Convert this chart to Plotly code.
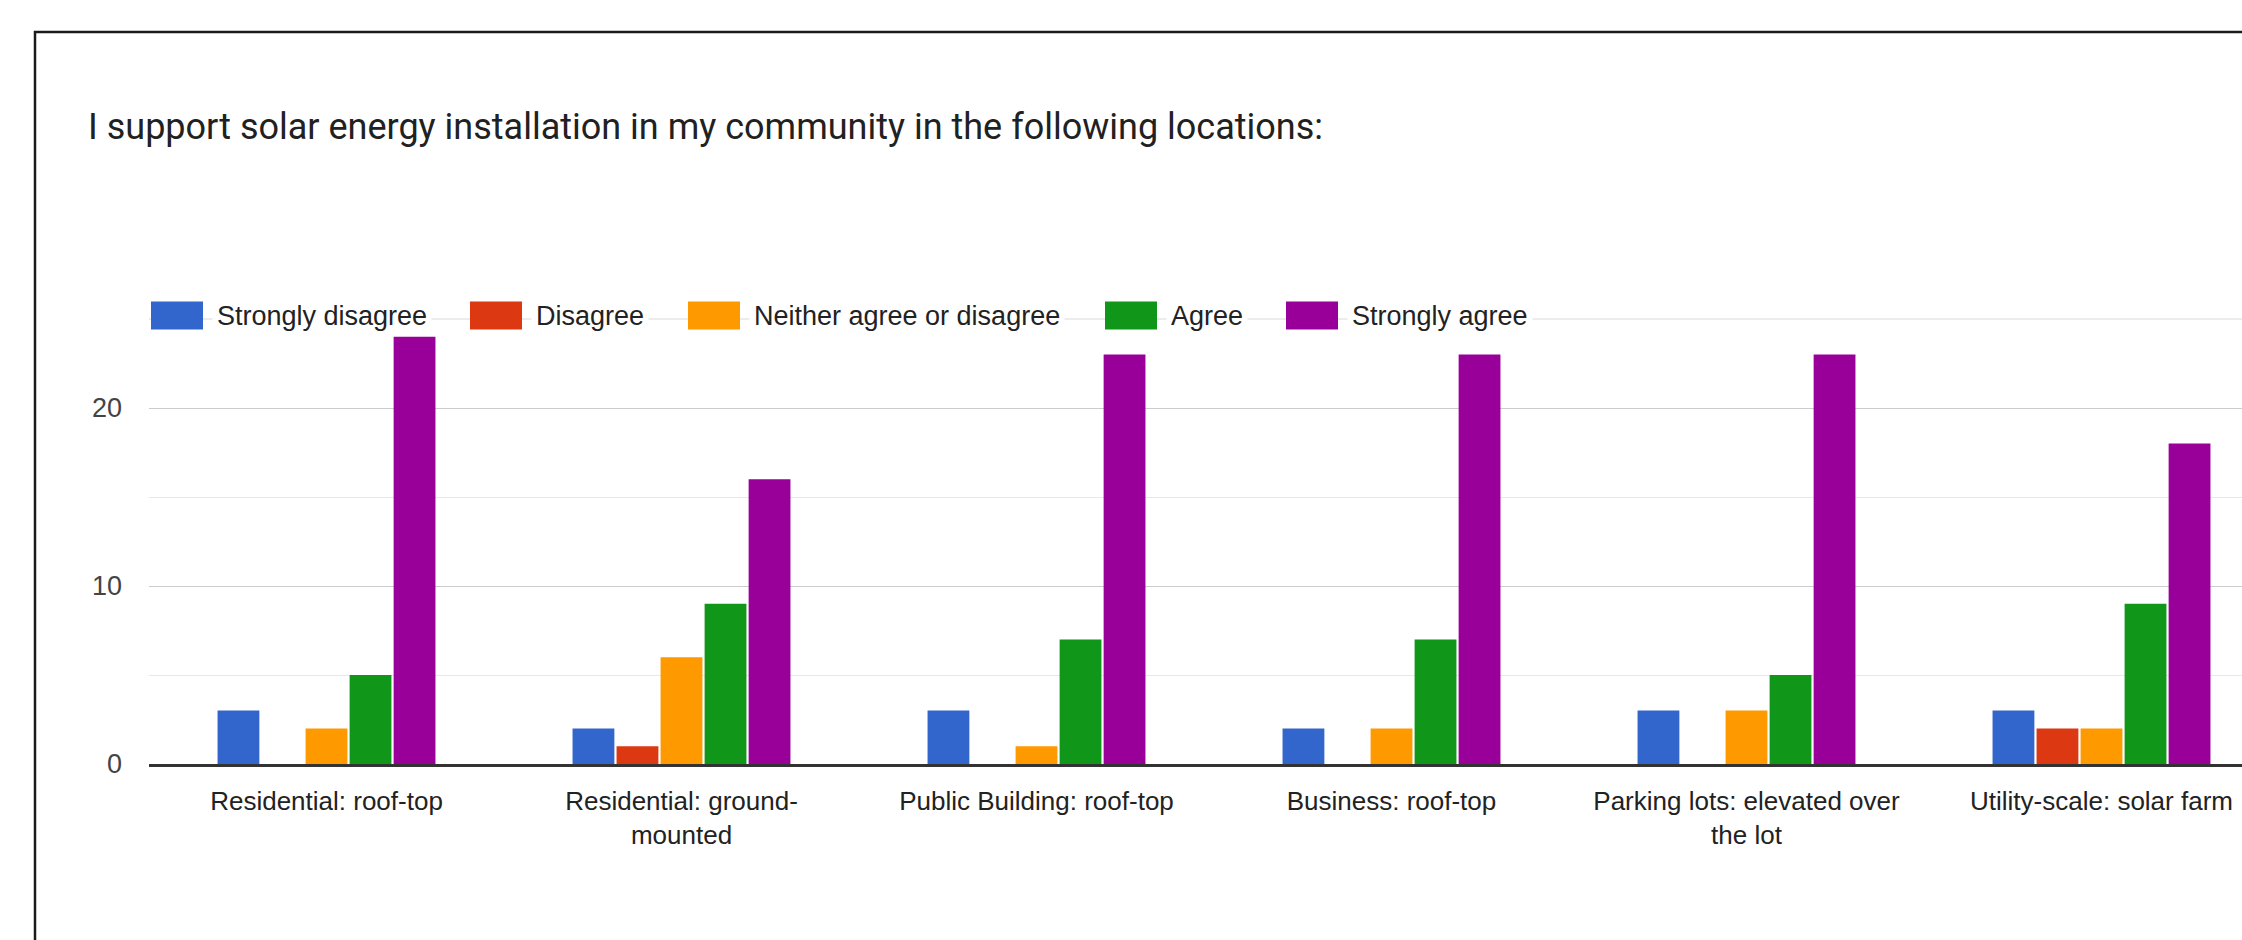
import plotly.graph_objects as go

# ---- data -------------------------------------------------------------
categories = [
    "Residential: roof-top",
    "Residential: ground-mounted",
    "Public Building: roof-top",
    "Business: roof-top",
    "Parking lots: elevated over the lot",
    "Utility-scale: solar farm",
]
tick_labels = [
    "Residential: roof-top",
    "Residential: ground-<br>mounted",
    "Public Building: roof-top",
    "Business: roof-top",
    "Parking lots: elevated over<br>the lot",
    "Utility-scale: solar farm",
]
series_names = [
    "Strongly disagree",
    "Disagree",
    "Neither agree or disagree",
    "Agree",
    "Strongly agree",
]
strongly_disagree = [3, 2, 3, 2, 3, 3]
disagree = [0, 1, 0, 0, 0, 2]
neither = [2, 6, 1, 2, 3, 2]
agree = [5, 9, 7, 7, 5, 9]
strongly_agree = [24, 16, 23, 23, 23, 18]
y_ticks = [0, 10, 20]
y_minor_ticks = [5, 15]
y_max = 25

title_text = "I support solar energy installation in my community in the following locations:"

# ---- styling ----------------------------------------------------------
colors = ["#3366cc", "#dc3912", "#ff9900", "#109618", "#990099"]
AXIS_FONT = "Liberation Sans, Arial, sans-serif"
TITLE_FONT = "Roboto, Arial, sans-serif"

W, H = 2242, 940
PLOT_L, PLOT_R, PLOT_T, PLOT_B = 149, 2242, 319, 764
CAT_STEP = 355  # pixel width of one category slot


def px_x(px):
    return (px - PLOT_L) / (PLOT_R - PLOT_L)


def px_y(py):
    return (PLOT_B - py) / (PLOT_B - PLOT_T)


fig = go.Figure()
values = [strongly_disagree, disagree, neither, agree, strongly_agree]
for name, vals, col in zip(series_names, values, colors):
    fig.add_trace(
        go.Bar(
            x=categories,
            y=vals,
            name=name,
            marker=dict(color=col, line=dict(width=0)),
            showlegend=False,
        )
    )

shapes = []
annotations = []

# faint top gridline that the legend sits on
shapes.append(
    dict(
        type="line", xref="paper", yref="paper",
        x0=0, x1=1, y0=1, y1=1,
        line=dict(color="#e6e6e6", width=1.4), layer="below",
    )
)

# custom legend: wide swatches sitting on the top gridline
legend_swatch_x = [151, 470, 688, 1105, 1286]
SW_W, SW_H = 52, 28
legend_cy = 315.5
for name, col, sx in zip(series_names, colors, legend_swatch_x):
    shapes.append(
        dict(
            type="rect", xref="paper", yref="paper",
            x0=px_x(sx), x1=px_x(sx + SW_W),
            y0=px_y(legend_cy + SW_H / 2), y1=px_y(legend_cy - SW_H / 2),
            fillcolor=col, line=dict(width=0), layer="above",
        )
    )
    annotations.append(
        dict(
            text=name, xref="paper", yref="paper",
            x=px_x(sx + SW_W + 9), y=px_y(legend_cy),
            xanchor="left", yanchor="middle", showarrow=False,
            bgcolor="white", borderpad=4,
            font=dict(family=AXIS_FONT, size=27, color="#222222"),
        )
    )

# outer card border
shapes.append(
    dict(
        type="rect", xref="paper", yref="paper",
        x0=px_x(35), x1=px_x(2300), y0=px_y(1000), y1=px_y(32),
        line=dict(color="#1a1a1a", width=2.5), fillcolor="rgba(0,0,0,0)",
        layer="below",
    )
)

fig.update_layout(
    template="none",
    width=W,
    height=H,
    paper_bgcolor="white",
    plot_bgcolor="white",
    margin=dict(l=PLOT_L, r=W - PLOT_R, t=PLOT_T, b=H - PLOT_B, pad=0, autoexpand=False),
    barmode="group",
    bargap=0.38,
    bargroupgap=0.05,
    showlegend=False,
    title=dict(
        text=title_text,
        xref="container", yref="container",
        x=88 / W, y=1 - 126 / H,
        xanchor="left", yanchor="middle",
        font=dict(family=TITLE_FONT, size=36, color="#212121"),
    ),
    shapes=shapes,
    annotations=annotations,
    xaxis=dict(
        type="category",
        range=[-0.5, -0.5 + (PLOT_R - PLOT_L) / CAT_STEP],
        tickmode="array",
        tickvals=categories,
        ticktext=tick_labels,
        tickfont=dict(family=AXIS_FONT, size=26, color="#222222"),
        ticks="",
        ticklabelstandoff=12,
        showgrid=False,
        showline=True,
        linecolor="#333333",
        linewidth=2.5,
        zeroline=False,
        automargin=False,
        fixedrange=True,
    ),
    yaxis=dict(
        range=[0, y_max],
        tickmode="array",
        tickvals=y_ticks,
        tickfont=dict(family=AXIS_FONT, size=27, color="#444444"),
        ticks="",
        ticklabelstandoff=26,
        showgrid=True,
        gridcolor="#cccccc",
        gridwidth=1.4,
        minor=dict(tickmode="array", tickvals=y_minor_ticks, showgrid=True,
                   gridcolor="#e8e8e8", gridwidth=1.4, ticks=""),
        showline=False,
        zeroline=False,
        automargin=False,
        fixedrange=True,
    ),
)

fig.write_html("out.html", config=dict(displayModeBar=False))
